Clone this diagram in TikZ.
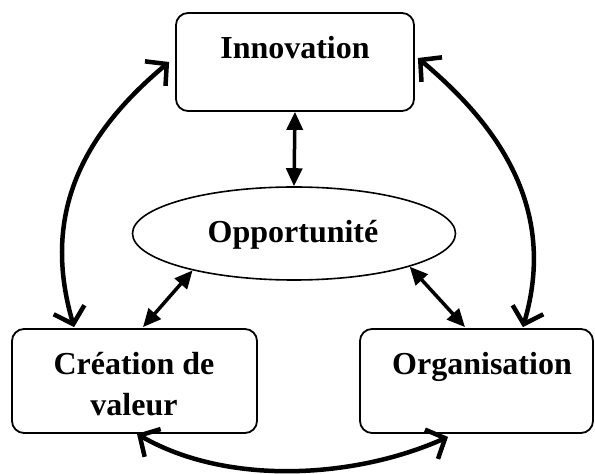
\documentclass[tikz,border=0pt]{standalone}
\usepackage{fontspec}
\setmainfont{Liberation Serif}
\usetikzlibrary{arrows.meta,shapes.geometric}
\begin{document}
\begin{tikzpicture}[x=1pt,y=1pt,
  box/.style={draw, line width=1.8pt, rounded corners=12pt, inner sep=0pt},
  ellbox/.style={draw, ellipse, line width=1.6pt, inner sep=0pt},
  lbl/.style={inner sep=0pt, font=\fontsize{32}{41}\selectfont\bfseries, align=center},
  curvy/.style={line width=4.5pt, {Straight Barb[length=15pt,width=32pt]}-{Straight Barb[length=15pt,width=32pt]}},
  straight/.style={line width=3.5pt, {Triangle[length=18pt,width=16pt]}-{Triangle[length=18pt,width=16pt]}}
]
\useasboundingbox (0,0) rectangle (595,474);
% boxes
\node[box, minimum width=238pt, minimum height=98pt] (inn) at (295,412) {};
\node[ellbox, minimum width=323pt, minimum height=93pt] (ell) at (294,240.5) {};
\node[box, minimum width=245pt, minimum height=104pt] (cre) at (134.5,93) {};
\node[box, minimum width=233pt, minimum height=104pt] (org) at (476.5,93) {};
% texts
\node[lbl, anchor=base] (innt) at (295,415) {Innovation};
\node[lbl, anchor=base] (ellt) at (293,231) {Opportunité};
\node[lbl, anchor=base] (cret) at (134,58) {Création de\\valeur};
\node[lbl, anchor=base] (orgt) at (482,99) {Organisation};
% straight arrows
\draw[straight] (inn.south) -- (ell.north);
\draw[straight] (ell.200) -- ([xshift=8.5pt,yshift=1pt]cre.north);
\draw[straight] (ell.344) -- ([xshift=-11.5pt,yshift=1pt]org.north);
% curved arrows
\draw[curvy] ([xshift=63pt,yshift=1pt]cre.north west) .. controls +(-35,119) and +(-80,-67) .. ([xshift=-6pt]inn.west);
\draw[curvy] ([xshift=-71pt,yshift=1pt]org.north east) .. controls +(35,119) and +(80,-67) .. ([shift={(3pt,4pt)}]inn.east);
\draw[curvy] ([xshift=2.5pt]cre.south) to[out=-30, in=204, looseness=0.85] ([xshift=-28.5pt,yshift=-3pt]org.south);
\end{tikzpicture}
\end{document}
